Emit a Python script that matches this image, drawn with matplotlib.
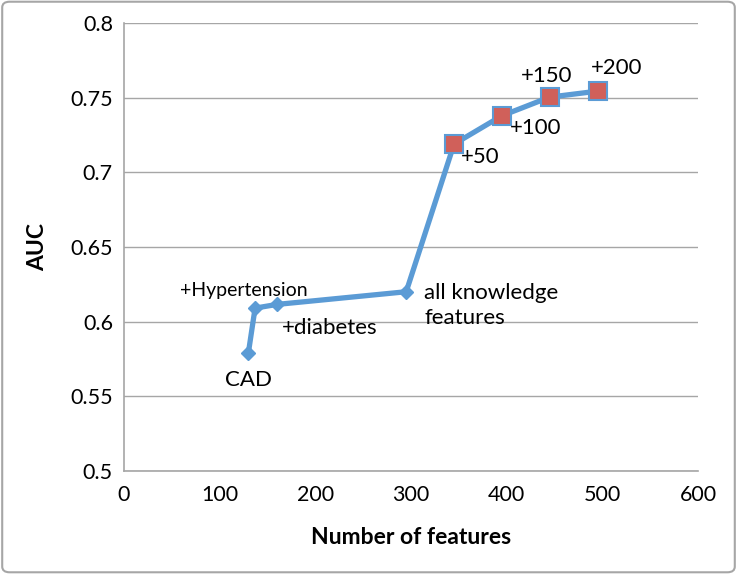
import matplotlib.pyplot as plt
from matplotlib.patches import FancyBboxPatch

plt.rcParams['font.family'] = ['Lato', 'DejaVu Sans']

# knowledge-based feature sets
base_x = [130, 137, 160, 295]
base_auc = [0.579, 0.609, 0.6115, 0.620]
base_labels = ['CAD', '+Hypertension', '+diabetes', 'all knowledge\nfeatures']

# data-driven additions
add_x = [295, 345, 395, 445, 495]
add_auc = [0.620, 0.719, 0.738, 0.7505, 0.7545]
add_labels = ['+50', '+100', '+150', '+200']

blue = '#5B9BD5'
red = '#D0605A'

fig = plt.figure(figsize=(7.37, 5.74), dpi=100)
ax = fig.add_axes([0.1683, 0.18, 0.7787, 0.7794])

ax.plot(base_x + add_x[1:], base_auc + add_auc[1:], color=blue, lw=3.8, zorder=2)
ax.plot(base_x, base_auc, ls='none', marker='D', ms=7.5, color=blue, zorder=3)
ax.plot(add_x[1:], add_auc[1:], ls='none', marker='s', ms=13.5, mfc=red,
        mec=blue, mew=1.5, zorder=3)

# point labels (offsets in points)
offs = [(0, -19.5, 'center', 16), (-8, 13, 'center', 14), (38, -17, 'center', 16),
        (13, -10, 'left', 16)]
for x, y, t, (dx, dy, ha, fs) in zip(base_x, base_auc, base_labels, offs):
    ax.annotate(t, (x, y), xytext=(dx, dy), textcoords='offset points',
                ha=ha, va='center', fontsize=fs, linespacing=1.3)
offs2 = [(19, -9.5), (24, -9), (-2, 15.5), (14, 17)]
for x, y, t, (dx, dy) in zip(add_x[1:], add_auc[1:], add_labels, offs2):
    ax.annotate(t, (x, y), xytext=(dx, dy), textcoords='offset points',
                ha='center', va='center', fontsize=16)

ax.set_xlim(0, 600)
ax.set_ylim(0.5, 0.8)
ax.set_xticks(range(0, 601, 100))
ax.set_yticks([0.5, 0.55, 0.6, 0.65, 0.7, 0.75, 0.8])
ax.set_yticklabels(['0.5', '0.55', '0.6', '0.65', '0.7', '0.75', '0.8'])
ax.yaxis.grid(True, color='#A6A6A6', lw=1)
ax.set_axisbelow(True)
for s in ['top', 'right']:
    ax.spines[s].set_visible(False)
for s in ['left', 'bottom']:
    ax.spines[s].set_color('#A6A6A6')
    ax.spines[s].set_linewidth(1.2)
ax.tick_params(length=0, labelsize=15.5, pad=10)
ax.tick_params(axis='y', pad=8)
ax.set_xlabel('Number of features', fontsize=16.5, fontweight='bold', labelpad=16)
ax.set_ylabel('AUC', fontsize=16.5, fontweight='bold', labelpad=16)

border = FancyBboxPatch((0.003, 0.003), 0.994, 0.994, boxstyle='round,pad=0,rounding_size=0.01',
                        transform=fig.transFigure, fill=False, ec='#A6A6A6', lw=1.5)
fig.patches.append(border)

fig.savefig('out.png', dpi=100)
